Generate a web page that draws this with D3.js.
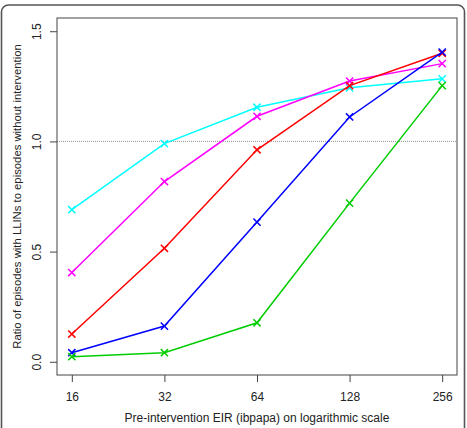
<!DOCTYPE html>
<html>
<head>
<meta charset="utf-8">
<script src="https://cdn.jsdelivr.net/npm/d3@7"></script>
<style>
  html, body { margin: 0; padding: 0; background: #fff; }
  svg { display: block; }
</style>
</head>
<body>
<svg id="chart"></svg>
<script>
/* ── Data ── */
const EIR      = [16, 32, 64, 128, 256];
const X_TICKS  = [16, 32, 64, 128, 256];
const Y_TICKS  = [0, 0.5, 1.0, 1.5];

const cyanSeries    = [0.69, 0.99, 1.155, 1.243, 1.284];
const magentaSeries = [0.405, 0.818, 1.114, 1.274, 1.353];
const redSeries     = [0.126, 0.515, 0.962, 1.253, 1.40];
const blueSeries    = [0.041, 0.162, 0.634, 1.111, 1.405];
const greenSeries   = [0.023, 0.041, 0.177, 0.72, 1.253];

const SERIES = [
  { color: '#00FFFF', values: cyanSeries },
  { color: '#FF00FF', values: magentaSeries },
  { color: '#FF0000', values: redSeries },
  { color: '#0000FF', values: blueSeries },
  { color: '#00CD00', values: greenSeries },
];

const W = 467, H = 428;
const FONT = 'Liberation Sans, Arial, sans-serif';

const svg = d3.select('#chart')
  .attr('width', W)
  .attr('height', H);

/* ── Outer rounded frame ── */
svg.append('rect')
  .attr('x', 1.5).attr('y', 5)
  .attr('width', 463).attr('height', 440)
  .attr('rx', 7)
  .attr('fill', 'none')
  .attr('stroke', '#555')
  .attr('stroke-width', 1.6);

/* ── Plot box ── */
const box = { left: 57, top: 18, right: 457, bottom: 375 };

const x = d3.scaleLog().base(2)
  .domain([16 / Math.pow(2, 0.16), 256 * Math.pow(2, 0.16)])
  .range([box.left, box.right]);

const y = d3.scaleLinear()
  .domain([-0.06, 1.56])
  .range([box.bottom, box.top]);

/* reference line at 1.0 */
svg.append('line')
  .attr('x1', box.left).attr('x2', box.right)
  .attr('y1', y(1)).attr('y2', y(1))
  .attr('stroke', '#777')
  .attr('stroke-width', 0.8)
  .attr('stroke-dasharray', '1,1');

/* ── Axes ── */
svg.append('g')
  .attr('transform', `translate(0,${box.bottom})`)
  .call(d3.axisBottom(x).tickValues(X_TICKS).tickFormat(d3.format('d'))
    .tickSizeInner(7).tickSizeOuter(0).tickPadding(10))
  .call(ax => ax.select('.domain').remove())
  .call(ax => ax.selectAll('.tick line').attr('stroke', '#444'))
  .call(ax => ax.selectAll('.tick text')
    .attr('fill', '#222').attr('font-size', 12).attr('font-family', FONT));

svg.append('g')
  .attr('transform', `translate(${box.left},0)`)
  .call(d3.axisLeft(y).tickValues(Y_TICKS).tickFormat(d3.format('.1f'))
    .tickSizeInner(7).tickSizeOuter(0).tickPadding(0))
  .call(ax => ax.select('.domain').remove())
  .call(ax => ax.selectAll('.tick line').attr('stroke', '#444'))
  .call(ax => ax.selectAll('.tick text')
    .attr('fill', '#222').attr('font-size', 12).attr('font-family', FONT)
    .attr('text-anchor', 'middle')
    .attr('dy', 0)
    .attr('transform', 'translate(-19,0) rotate(-90)')
    .attr('x', 0)
    .attr('dominant-baseline', 'middle'));

svg.append('rect')
  .attr('x', box.left).attr('y', box.top)
  .attr('width', box.right - box.left).attr('height', box.bottom - box.top)
  .attr('fill', 'none')
  .attr('stroke', '#444')
  .attr('stroke-width', 1);

/* ── Axis titles ── */
svg.append('text')
  .attr('x', (box.left + box.right) / 2)
  .attr('y', 422)
  .attr('text-anchor', 'middle')
  .attr('font-size', 12)
  .attr('font-family', FONT)
  .attr('fill', '#222')
  .text('Pre-intervention EIR (ibpapa) on logarithmic scale');

svg.append('text')
  .attr('transform', `translate(21,${(box.top + box.bottom) / 2}) rotate(-90)`)
  .attr('text-anchor', 'middle')
  .attr('font-size', 11.3)
  .attr('font-family', FONT)
  .attr('fill', '#222')
  .text('Ratio of episodes with LLINs to episodes without intervention');

/* ── Series ── */
const line = d3.line()
  .x((d, i) => x(EIR[i]))
  .y(d => y(d));

const M = 3.6; // half-size of x markers

SERIES.forEach(s => {
  const g = svg.append('g');
  g.append('path')
    .datum(s.values)
    .attr('d', line)
    .attr('fill', 'none')
    .attr('stroke', s.color)
    .attr('stroke-width', 1.5);

  g.selectAll('path.mark')
    .data(s.values)
    .join('path')
    .attr('class', 'mark')
    .attr('d', (d, i) => {
      const cx = x(EIR[i]), cy = y(d);
      return `M${cx - M},${cy - M}L${cx + M},${cy + M}M${cx - M},${cy + M}L${cx + M},${cy - M}`;
    })
    .attr('stroke', s.color)
    .attr('stroke-width', 1.5)
    .attr('fill', 'none');
});
</script>
</body>
</html>
